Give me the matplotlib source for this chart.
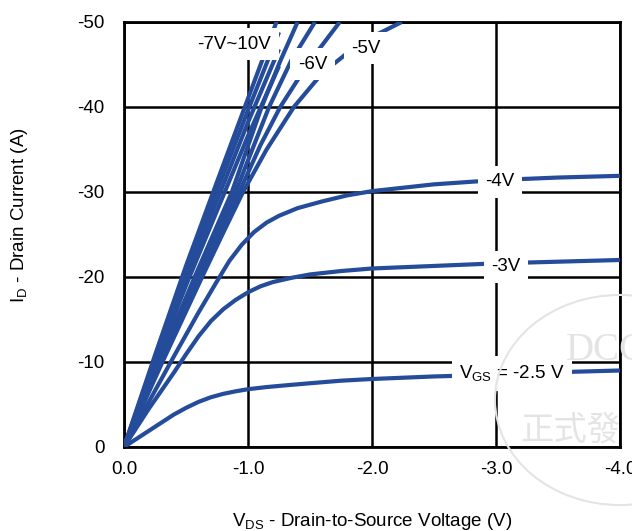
import matplotlib
matplotlib.use('Agg')
import matplotlib.pyplot as plt
from matplotlib.patches import Circle

plt.rcParams['font.family'] = ['Liberation Sans', 'DejaVu Sans']
plt.rcParams['mathtext.default'] = 'regular'

# ---------------------------------------------------------
# DATA  (|VDS| in V, |ID| in A)
# ---------------------------------------------------------
vds_bundle = [0.0, 0.25, 0.5, 0.75, 1.0, 1.25]
id_vgs10 = [0.0, 10.8, 21.3, 31.2, 41.0, 50.8]
id_vgs9 = [0.0, 10.4, 20.6, 30.2, 39.6, 48.8]
id_vgs8 = [0.0, 10.0, 19.8, 29.0, 38.2, 46.8]
id_vgs7 = [0.0, 9.6, 19.0, 27.8, 36.6, 44.8]

vds_l1 = [0.0, 0.28, 0.57, 0.87, 1.11, 1.26, 1.40]
id_l1 = [0.0, 10.0, 20.0, 30.0, 40.0, 45.4, 50.0]
vds_l2 = [0.0, 0.29, 0.59, 0.90, 1.04, 1.17, 1.35, 1.54]
id_l2 = [0.0, 10.0, 20.0, 30.0, 35.2, 40.0, 45.5, 50.0]
vds_l3 = [0.0, 0.30, 0.61, 0.93, 1.10, 1.26, 1.48, 1.74]
id_l3 = [0.0, 10.0, 20.0, 30.0, 35.5, 40.0, 45.0, 50.0]
vds_vgs5 = [0.0, 0.31, 0.63, 0.80, 0.96, 1.15, 1.37, 1.60, 1.90, 2.24]
id_vgs5 = [0.0, 10.0, 20.0, 25.2, 30.0, 35.0, 40.0, 44.0, 47.5, 50.0]

vds_vgs4 = [0.0, 0.2, 0.4, 0.6, 0.75, 0.85, 0.95, 1.05, 1.15, 1.25, 1.4,
            1.6, 1.8, 2.0, 2.5, 3.0, 3.5, 4.0]
id_vgs4 = [0.0, 5.3, 10.6, 15.8, 19.5, 21.9, 23.8, 25.3, 26.4, 27.2, 28.1,
           28.9, 29.6, 30.1, 30.9, 31.4, 31.7, 31.9]

vds_vgs3 = [0.0, 0.2, 0.4, 0.5, 0.6, 0.7, 0.8, 0.9, 1.0, 1.1, 1.2, 1.35,
            1.5, 1.75, 2.0, 2.5, 3.0, 3.5, 4.0]
id_vgs3 = [0.0, 4.5, 8.7, 10.9, 13.0, 14.8, 16.2, 17.3, 18.2, 18.9, 19.4, 19.9,
           20.3, 20.7, 21.0, 21.3, 21.6, 21.8, 22.0]

vds_vgs25 = [0.0, 0.1, 0.2, 0.3, 0.4, 0.5, 0.6, 0.7, 0.8, 0.9, 1.0, 1.15,
             1.3, 1.5, 1.75, 2.0, 2.5, 3.0, 3.5, 4.0]
id_vgs25 = [0.0, 0.95, 1.9, 2.85, 3.8, 4.6, 5.3, 5.85, 6.25, 6.55, 6.8, 7.05,
            7.25, 7.5, 7.8, 8.0, 8.3, 8.5, 8.8, 9.0]

x_ticks = [0.0, -1.0, -2.0, -3.0, -4.0]
y_ticks = [0, -10, -20, -30, -40, -50]

curve_labels = ['-7V~10V', '-6V', '-5V', '-4V', '-3V', 'V$_{GS}$ = -2.5 V']
label_x = [-0.89, -1.52, -1.95, -3.03, -3.08, -3.13]
label_y = [-47.4, -45.0, -46.9, -31.2, -21.2, -8.7]

# ---------------------------------------------------------
# PLOT
# ---------------------------------------------------------
BLUE = '#244c9a'
FS = 13.5
fig = plt.figure(figsize=(6.32, 5.31), dpi=100)
ax = fig.add_axes([0.1962, 0.1582, 0.7848, 0.8004])

curves = [
    (vds_bundle, id_vgs10), (vds_bundle, id_vgs9), (vds_bundle, id_vgs8), (vds_bundle, id_vgs7),
    (vds_l1, id_l1), (vds_l2, id_l2), (vds_l3, id_l3), (vds_vgs5, id_vgs5),
    (vds_vgs4, id_vgs4), (vds_vgs3, id_vgs3), (vds_vgs25, id_vgs25),
]
for xs, ys in curves:
    ax.plot([-v for v in xs], [-i for i in ys], color=BLUE, lw=3.0,
            solid_capstyle='butt', solid_joinstyle='round', zorder=3)

for txt, lx, ly in zip(curve_labels, label_x, label_y):
    ax.text(lx, ly, txt, fontsize=FS, ha='center', va='center', zorder=5,
            bbox=dict(boxstyle='square,pad=0.4', fc='white', ec='none'))

ax.set_xlim(0, -4)
ax.set_ylim(0, -50)
ax.set_xticks(x_ticks)
ax.set_xticklabels([f'{t:.1f}' for t in x_ticks])
ax.set_yticks(y_ticks)
ax.set_yticklabels([str(t) for t in y_ticks])
ax.tick_params(length=0, labelsize=FS, pad=10)
ax.tick_params(axis='y', pad=14)
ax.grid(True, color='black', lw=1.8, zorder=1)
ax.set_axisbelow(True)
for s in ax.spines.values():
    s.set_linewidth(2.0)

ax.set_xlabel('V$_{DS}$ - Drain-to-Source Voltage (V)', fontsize=FS)
ax.xaxis.set_label_coords(0.5, -0.15)
ax.set_ylabel('I$_D$ - Drain Current (A)', fontsize=FS)
ax.yaxis.set_label_coords(-0.19, 0.545)

# faint distributor watermark
wm = '#e4e4e4'
fig.patches.append(Circle((620 / 632, 1 - 400 / 531), 125 / 632, transform=fig.transFigure,
                          fill=False, ec=wm, lw=1.5, zorder=0))
fig.text(606 / 632, 1 - 350 / 531, 'DCC', fontsize=28, color=wm, family='Liberation Serif',
         ha='center', va='center')
fig.text(570 / 632, 1 - 430 / 531, '正式發', fontsize=24, color=wm,
         family=['Noto Sans CJK TC', 'DejaVu Sans'], ha='center', va='center')

fig.savefig('out.png', dpi=100)
